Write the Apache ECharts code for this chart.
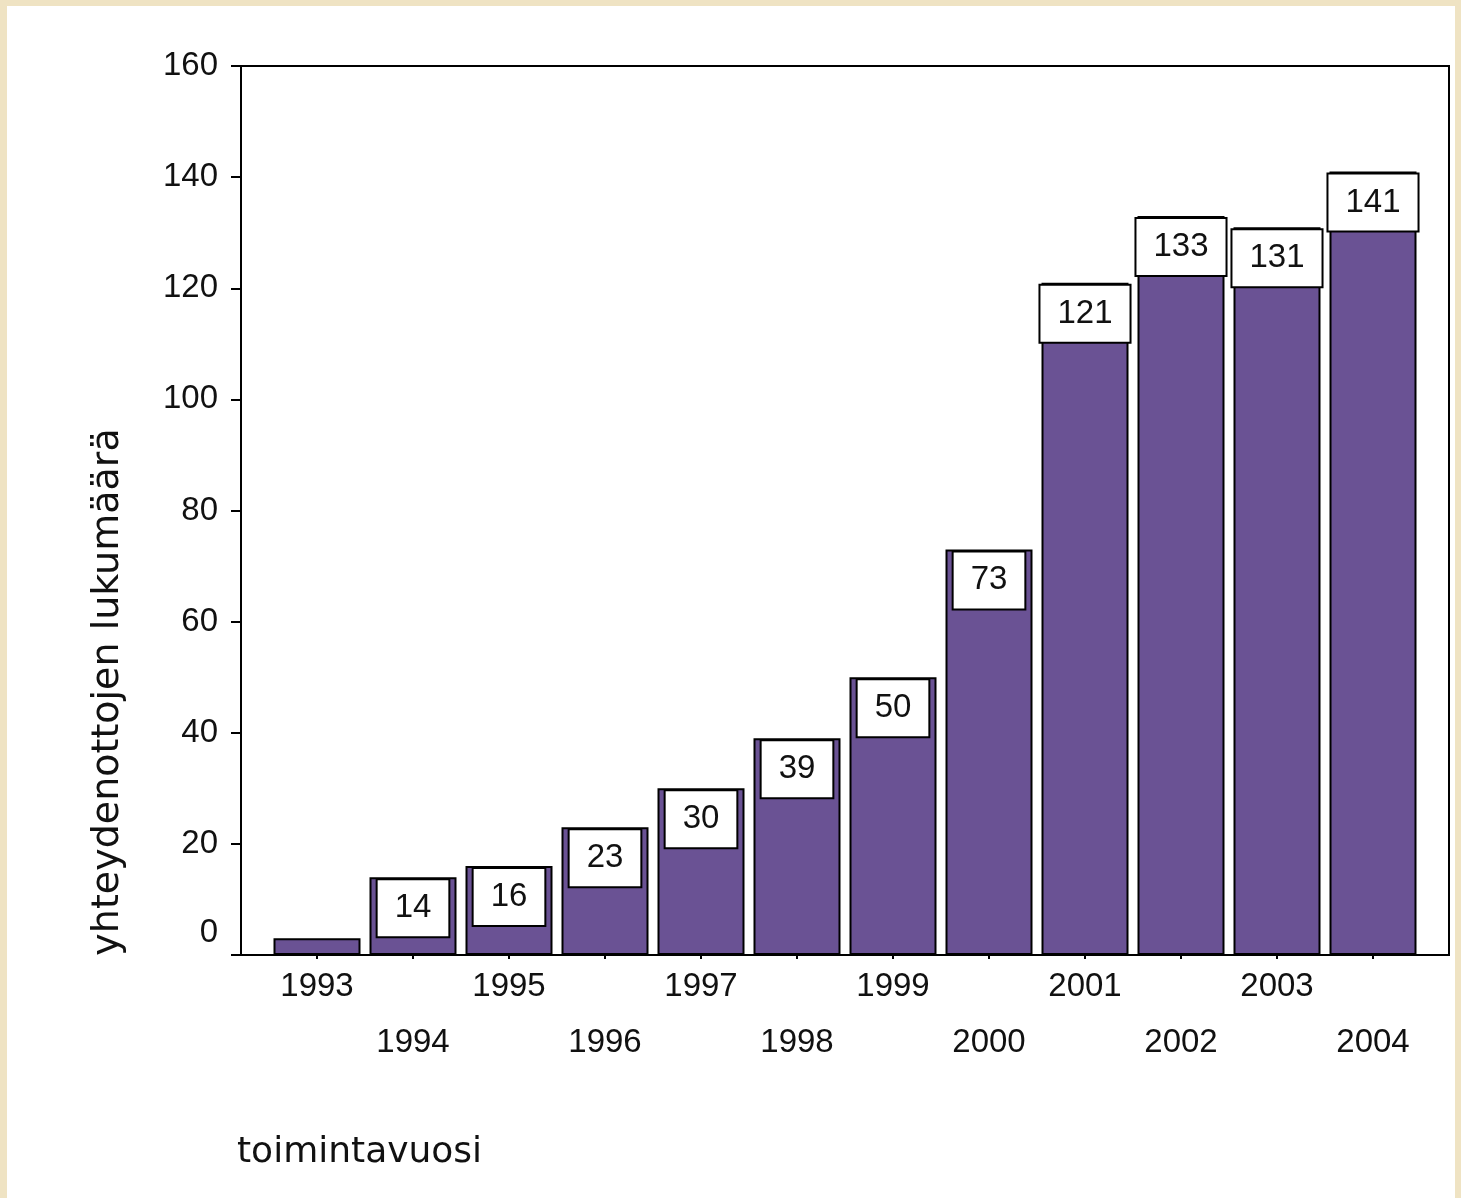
<!DOCTYPE html>
<html><head><meta charset="utf-8">
<script src="https://cdn.jsdelivr.net/npm/echarts@6/dist/echarts.min.js"></script>
<style>
html,body{margin:0;padding:0;width:1461px;height:1198px;overflow:hidden;background:#efe3c3;}
#bg{position:absolute;left:7px;top:6px;width:1448px;height:1192px;background:#fff;}
#c{position:absolute;left:0;top:0;width:1461px;height:1198px;}
</style></head><body><div id="bg"></div><div id="c"></div>
<script>
const years = ['1993','1994','1995','1996','1997','1998','1999','2000','2001','2002','2003','2004'];
const counts = [3, 14, 16, 23, 30, 39, 50, 73, 121, 133, 131, 141];
const showLabel = [false, true, true, true, true, true, true, true, true, true, true, true];
const yMin = 0, yMax = 160, yStep = 20;
const yAxisTitle = 'yhteydenottojen lukumäärä';
const xAxisTitle = 'toimintavuosi';

const numFont = 'Liberation Sans';
const txtFont = 'DejaVu Sans';

const chart = echarts.init(document.getElementById('c'), null, {renderer: 'canvas'});
chart.setOption({
  backgroundColor: 'transparent',
  animation: false,
  grid: [
    {left: 241, top: 66, width: 1208, height: 889, show: true, borderColor: '#000', borderWidth: 2, backgroundColor: 'transparent'},
    {left: 269, top: 66, width: 1152, height: 889}
  ],
  xAxis: [
    {gridIndex: 0, type: 'value', min: 0, max: 1, show: false},
    {gridIndex: 1, type: 'category', data: years,
      axisLine: {show: false},
      axisTick: {show: true, alignWithLabel: true, length: 4, lineStyle: {color: '#000', width: 2}},
      axisLabel: {
        interval: 0, margin: 4, color: '#111', fontFamily: numFont, fontSize: 33, lineHeight: 56,
        formatter: function (v, i) { return i % 2 === 1 ? '\n' + v : v; }
      }
    }
  ],
  yAxis: [
    {gridIndex: 0, type: 'value', min: yMin, max: yMax, interval: yStep,
      axisLine: {show: true, lineStyle: {color: '#000', width: 2}},
      axisTick: {show: true, length: 10, lineStyle: {color: '#000', width: 2}},
      splitLine: {show: false},
      axisLabel: {margin: 23, color: '#111', fontFamily: numFont, fontSize: 33,
        formatter: function (v) { return v === 0 ? '{z|0}' : String(v); },
        rich: {z: {fontFamily: numFont, fontSize: 33, color: '#111', padding: [0, 0, 44, 0]}}
      }
    },
    {gridIndex: 1, type: 'value', min: yMin, max: yMax, show: false}
  ],
  series: [{
    type: 'bar', xAxisIndex: 1, yAxisIndex: 1,
    barWidth: 87,
    data: counts.map(function (v, i) {
      return {value: v, label: {show: showLabel[i]}};
    }),
    itemStyle: {color: '#6a5294', borderColor: '#000', borderWidth: 2},
    label: {
      show: true, position: 'insideTop', distance: 3,
      color: '#111', fontFamily: numFont, fontSize: 33, lineHeight: 36,
      backgroundColor: '#fff', borderColor: '#000', borderWidth: 2,
      padding: [10, 17]
    }
  }],
  graphic: [
    {type: 'text', x: 108, y: 692, rotation: Math.PI / 2,
      style: {text: yAxisTitle, fill: '#111', font: '38px "' + txtFont + '"', textAlign: 'center', textVerticalAlign: 'middle'}},
    {type: 'text', x: 237, y: 1153,
      style: {text: xAxisTitle, fill: '#111', font: '36px "' + txtFont + '"', textAlign: 'left', textVerticalAlign: 'middle'}}
  ]
});
</script></body></html>
